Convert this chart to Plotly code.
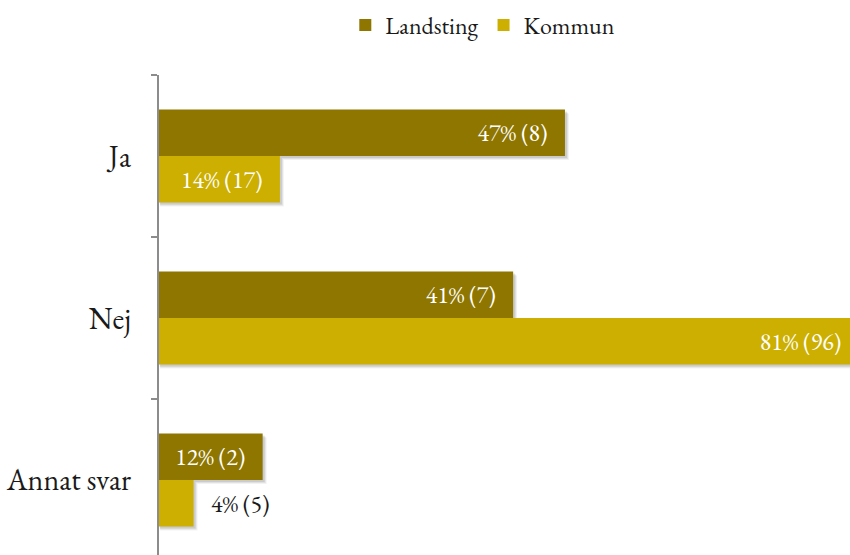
import plotly.graph_objects as go

categories = ["Ja", "Nej", "Annat svar"]
landsting_pct = [47, 41, 12]
landsting_n = [8, 7, 2]
kommun_pct = [14, 81, 4]
kommun_n = [17, 96, 5]

font_family = "EB Garamond, Garamond, Liberation Serif, serif"
NB = "&nbsp;"

X_MAX = 80
PLOT_W = 850 - 159
PLOT_H = 555 - 75
Y_TOP, Y_BOT = -0.5, 2.463
BARGAP = 0.426
px_x = X_MAX / PLOT_W
px_y = (Y_BOT - Y_TOP) / PLOT_H
bar_w = (1 - BARGAP) / 2


def labels(pcts, ns, positions):
    out = []
    for p, n, pos in zip(pcts, ns, positions):
        core = f"{p}% ({n})"
        out.append(core + NB * 3 if pos == "inside" else NB * 3 + core)
    return out


land_pos = ["inside", "inside", "inside"]
komm_pos = ["inside", "inside", "outside"]

fig = go.Figure()
series = [
    ("Landsting", landsting_pct, landsting_n, land_pos, "#8E7600", -1),
    ("Kommun", kommun_pct, kommun_n, komm_pos, "#CCAF00", 0),
]
shapes = []
for name, pcts, ns, pos, color, off in series:
    fig.add_trace(go.Bar(
        name=name, y=categories, x=pcts, orientation="h",
        marker=dict(color=color, line=dict(width=0)),
        text=labels(pcts, ns, pos),
        textposition=pos, insidetextanchor="end", cliponaxis=True,
        insidetextfont=dict(color="white", size=24, family=font_family),
        outsidetextfont=dict(color="#1a1a1a", size=24, family=font_family),
    ))
    # soft drop shadow beneath each bar
    for i, v in enumerate(pcts):
        y0 = i + off * bar_w
        y1 = y0 + bar_w
        for d, op in [(4, 0.05), (3, 0.07), (2, 0.09)]:
            shapes.append(dict(
                type="rect", xref="x", yref="y", layer="below",
                x0=d * px_x * 0.3, x1=v + d * px_x,
                y0=y0 + d * px_y, y1=y1 + d * px_y,
                line=dict(width=0), fillcolor=f"rgba(0,0,0,{op})",
            ))

fig.update_layout(
    width=850, height=555,
    margin=dict(l=159, r=0, t=75, b=0),
    paper_bgcolor="white", plot_bgcolor="rgba(0,0,0,0)",
    barmode="group", bargap=BARGAP, bargroupgap=0,
    font=dict(family=font_family, color="#1a1a1a"),
    legend=dict(orientation="h", x=0.568, xanchor="center", xref="container",
                y=0.995, yanchor="top", yref="container",
                font=dict(size=24), traceorder="normal"),
    showlegend=True,
    uniformtext=dict(mode=False),
    shapes=shapes,
)
fig.update_xaxes(range=[0, X_MAX], visible=False, showgrid=False, zeroline=False)
fig.update_yaxes(
    range=[Y_BOT, Y_TOP], type="category",
    showline=True, linecolor="#8c8c8c", linewidth=2,
    ticks="outside", tickson="boundaries", ticklen=6, tickcolor="#8c8c8c", tickwidth=1.5,
    tickfont=dict(size=30, color="#1a1a1a"), ticklabelstandoff=20,
    showgrid=False, zeroline=False,
)

fig.write_html("out.html")
